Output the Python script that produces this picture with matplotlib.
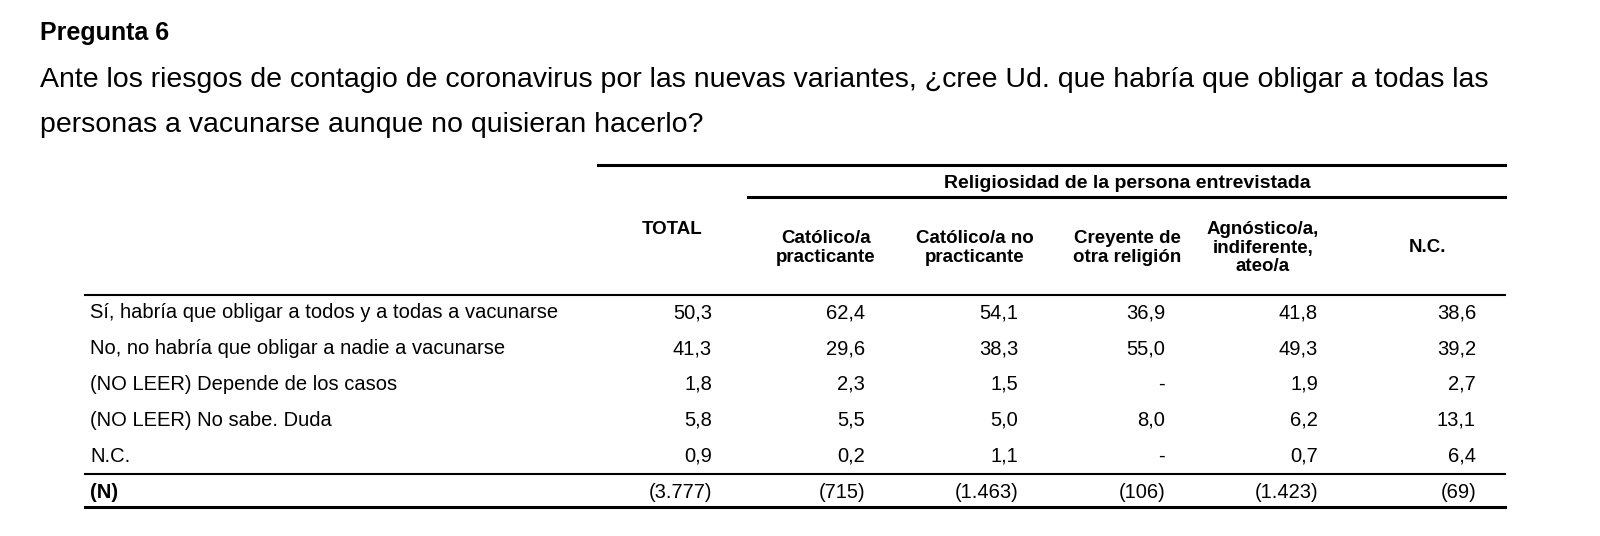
import matplotlib
matplotlib.use("Agg")
import matplotlib.pyplot as plt

plt.rcParams['font.family'] = ['Liberation Sans', 'DejaVu Sans']

title = "Pregunta 6"
question = ["Ante los riesgos de contagio de coronavirus por las nuevas variantes, ¿cree Ud. que habría que obligar a todas las",
            "personas a vacunarse aunque no quisieran hacerlo?"]
group_header = "Religiosidad de la persona entrevistada"
col_headers = ["TOTAL", "Católico/a\npracticante", "Católico/a no\npracticante", "Creyente de\notra religión",
               "Agnóstico/a,\nindiferente,\nateo/a", "N.C."]
row_labels = ["Sí, habría que obligar a todos y a todas a vacunarse",
              "No, no habría que obligar a nadie a vacunarse",
              "(NO LEER) Depende de los casos",
              "(NO LEER) No sabe. Duda",
              "N.C.",
              "(N)"]
total = ["50,3", "41,3", "1,8", "5,8", "0,9", "(3.777)"]
cat_pract = ["62,4", "29,6", "2,3", "5,5", "0,2", "(715)"]
cat_nopract = ["54,1", "38,3", "1,5", "5,0", "1,1", "(1.463)"]
otra = ["36,9", "55,0", "-", "8,0", "-", "(106)"]
agnost = ["41,8", "49,3", "1,9", "6,2", "0,7", "(1.423)"]
nc = ["38,6", "39,2", "2,7", "13,1", "6,4", "(69)"]
columns = [total, cat_pract, cat_nopract, otra, agnost, nc]

fig = plt.figure(figsize=(16, 5.36), dpi=100)
ax = fig.add_axes([0, 0, 1, 1])
ax.set_xlim(0, 1600); ax.set_ylim(536, 0); ax.axis('off')

ax.text(40, 33, title, fontsize=18, fontweight='bold', va='center')
for i, q in enumerate(question):
    ax.text(40, 80 + 45 * i, q, fontsize=20.5, va='center')

ax.plot([598, 1505], [165, 165], color='black', lw=2.2)
ax.text(1127, 183, group_header, fontsize=14, fontweight='bold', ha='center', va='center')
ax.plot([748, 1505], [197, 197], color='black', lw=2.2)

hx = [672, 826, 975, 1127, 1263, 1428]
hy = [230, 248, 248, 248, 248, 248]
for x, y, h in zip(hx, hy, col_headers):
    ax.text(x, y, h, fontsize=13.5, fontweight='bold', ha='center', va='center', linespacing=1.15)

ax.plot([85, 1505], [295, 295], color='black', lw=1.5)
rx = [712, 865, 1018, 1165, 1318, 1476]
ry = [313, 349, 384, 420, 456, 492]
for j, (lab, y) in enumerate(zip(row_labels, ry)):
    ax.text(90, y, lab, fontsize=14.5, va='center', fontweight='bold' if j == 5 else 'normal')
    for x, col in zip(rx, columns):
        ax.text(x, y, col[j], fontsize=14.5, ha='right', va='center')
ax.plot([85, 1505], [474, 474], color='black', lw=1.5)
ax.plot([85, 1505], [507, 507], color='black', lw=2.2)

fig.savefig("out.png", dpi=100)
